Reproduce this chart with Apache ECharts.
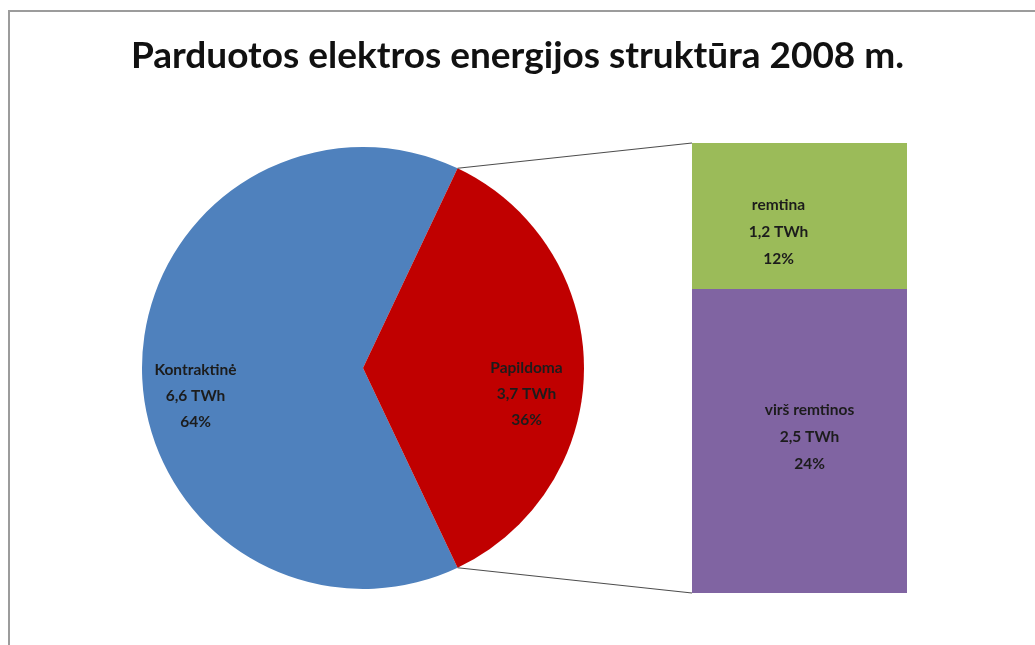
<!DOCTYPE html>
<html>
<head>
<meta charset="utf-8">
<script src="https://cdn.jsdelivr.net/npm/echarts@6/dist/echarts.min.js"></script>
<style>
  html, body { margin: 0; padding: 0; background: #fff; }
  #chart { width: 1035px; height: 645px; }
</style>
</head>
<body>
<div id="chart"></div>
<script>
// Sold electricity by type, TWh (2008)
const categories = ['Kontraktinė', 'Papildoma'];
const pieValues = [6.6, 3.7];
const pieShares = [64, 36];

// Breakdown of the "Papildoma" slice
const subCategories = ['virš remtinos', 'remtina'];
const subValues = [2.5, 1.2];
const subShares = [24, 12];

const COLORS = { pie: ['#4F81BD', '#C00000'], sub: ['#8064A2', '#9BBB59'] };
const PIE = { cx: 363, cy: 368, r: 221 };
const GRID = { left: 692, top: 143, width: 215, height: 450 };
const FONT = 'Lato, "Open Sans", sans-serif';

const fmt = (name, v, s) => name + '\n' + v.toFixed(1).replace('.', ',') + ' TWh\n' + s + '%';

const pieTotal = pieValues.reduce((a, b) => a + b, 0);
const split = pieValues[1] / pieTotal;            // share of the exploded slice
const halfAngle = split * 180;                     // exploded slice is centred on the right
const startAngle = halfAngle + 360 * (1 - split);
const subTotal = subValues.reduce((a, b) => a + b, 0);

const pieLabelShift = [[-27, 14], [25, 13]];
const subLabelShift = [[10, -4], [-21, 16]];

const labelStyle = {
  color: '#1c1c1c', fontFamily: FONT, fontWeight: 'bold', fontSize: 15.5, lineHeight: 26
};

const chart = echarts.init(document.getElementById('chart'), null, { renderer: 'canvas' });

chart.setOption({
  animation: false,
  backgroundColor: '#ffffff',
  title: {
    text: 'Parduotos elektros energijos struktūra 2008 m.',
    left: 'center', top: 33,
    textStyle: { fontFamily: FONT, fontSize: 37, fontWeight: 'bold', color: '#111' }
  },
  grid: { left: GRID.left, top: GRID.top, width: GRID.width, height: GRID.height },
  xAxis: { type: 'category', data: [categories[1]], show: false },
  yAxis: { type: 'value', min: 0, max: subTotal, show: false },
  series: [
    {
      type: 'pie',
      center: [PIE.cx, PIE.cy],
      radius: PIE.r,
      startAngle: startAngle,
      clockwise: true,
      silent: true,
      data: categories.map((c, i) => ({
        name: c, value: pieValues[i], itemStyle: { color: COLORS.pie[i] }
      })),
      label: Object.assign({
        position: 'inside',
        formatter: p => fmt(p.name, pieValues[p.dataIndex], pieShares[p.dataIndex])
      }, labelStyle),
      labelLine: { show: false },
      labelLayout: p => ({ dx: pieLabelShift[p.dataIndex][0], dy: pieLabelShift[p.dataIndex][1] })
    }
  ].concat(subCategories.map((c, i) => ({
    type: 'bar',
    name: c,
    stack: 'sub',
    barWidth: '100%',
    silent: true,
    itemStyle: { color: COLORS.sub[i] },
    data: [subValues[i]],
    label: Object.assign({
      show: true,
      position: 'inside',
      offset: subLabelShift[i],
      formatter: () => fmt(c, subValues[i], subShares[i])
    }, labelStyle, { lineHeight: 27 })
  })))
});

// Frame and the connector lines between the pie slice and the stacked bar
const rad = a => a * Math.PI / 180;
const edge = a => [PIE.cx + PIE.r * Math.cos(rad(a)), PIE.cy - PIE.r * Math.sin(rad(a))];
const barTop = chart.convertToPixel({ yAxisIndex: 0 }, subTotal);
const barBottom = chart.convertToPixel({ yAxisIndex: 0 }, 0);
const barLeft = chart.convertToPixel({ xAxisIndex: 0 }, 0) - GRID.width / 2;
const pTop = edge(halfAngle);
const pBottom = edge(-halfAngle);

chart.setOption({
  graphic: [
    { type: 'rect', shape: { x: 9, y: 11, width: 1100, height: 700 },
      style: { fill: 'none', stroke: '#9c9c9c', lineWidth: 2 }, silent: true, z: 10 },
    { type: 'line', shape: { x1: pTop[0], y1: pTop[1], x2: barLeft, y2: barTop },
      style: { stroke: '#4d4d4d', lineWidth: 1.2 }, silent: true, z: 10 },
    { type: 'line', shape: { x1: pBottom[0], y1: pBottom[1], x2: barLeft, y2: barBottom },
      style: { stroke: '#4d4d4d', lineWidth: 1.2 }, silent: true, z: 10 }
  ]
});
</script>
</body>
</html>
